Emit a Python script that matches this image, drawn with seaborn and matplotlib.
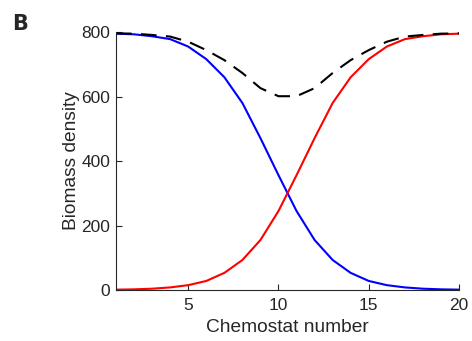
import matplotlib
matplotlib.use("Agg")
import matplotlib.pyplot as plt
import seaborn as sns
import pandas as pd

chemostat = list(range(1, 21))
species_blue = [795, 793, 787, 778, 755, 716, 660, 580, 471, 356, 245, 155, 93, 53, 28, 15, 8, 4, 2, 1]
species_red = [1, 2, 4, 8, 15, 28, 53, 93, 155, 245, 356, 471, 580, 660, 716, 755, 778, 787, 793, 795]
total = [b + r for b, r in zip(species_blue, species_red)]

df = pd.DataFrame({"x": chemostat, "blue": species_blue, "red": species_red, "total": total})

sns.set_theme(style="ticks")
plt.rcParams["font.family"] = ["Liberation Sans", "DejaVu Sans"]

fig = plt.figure(figsize=(4.72, 3.41), dpi=100)
ax = fig.add_axes([0.2458, 0.1496, 0.9725 - 0.2458, 0.906 - 0.1496])

sns.lineplot(data=df, x="x", y="blue", ax=ax, color="#0000ff", lw=1.5)
sns.lineplot(data=df, x="x", y="red", ax=ax, color="#ff0000", lw=1.5)
sns.lineplot(data=df, x="x", y="total", ax=ax, color="black", lw=1.5, dashes=False,
             linestyle=(0, (7.5, 4.5)))

ax.set_xlim(1, 20)
ax.set_ylim(0, 800)
ax.set_xticks([5, 10, 15, 20])
ax.set_yticks([0, 200, 400, 600, 800])
ax.tick_params(direction="in", length=4, width=0.8, colors="#262626", labelsize=12.5)
ax.tick_params(axis="x", pad=6)
ax.tick_params(axis="y", pad=4)
for s in ["top", "right"]:
    ax.spines[s].set_visible(False)
for s in ["left", "bottom"]:
    ax.spines[s].set_color("#262626")
    ax.spines[s].set_linewidth(0.8)
ax.set_xlabel("Chemostat number", fontsize=13.8, color="#262626", labelpad=4)
ax.set_ylabel("Biomass density", fontsize=13.8, color="#262626", labelpad=1)

fig.text(12 / 472, 1 - 24 / 341, "B", fontsize=15, fontweight="bold", ha="left", va="center",
         family=["DejaVu Sans"])

fig.savefig("out.png", dpi=100)
